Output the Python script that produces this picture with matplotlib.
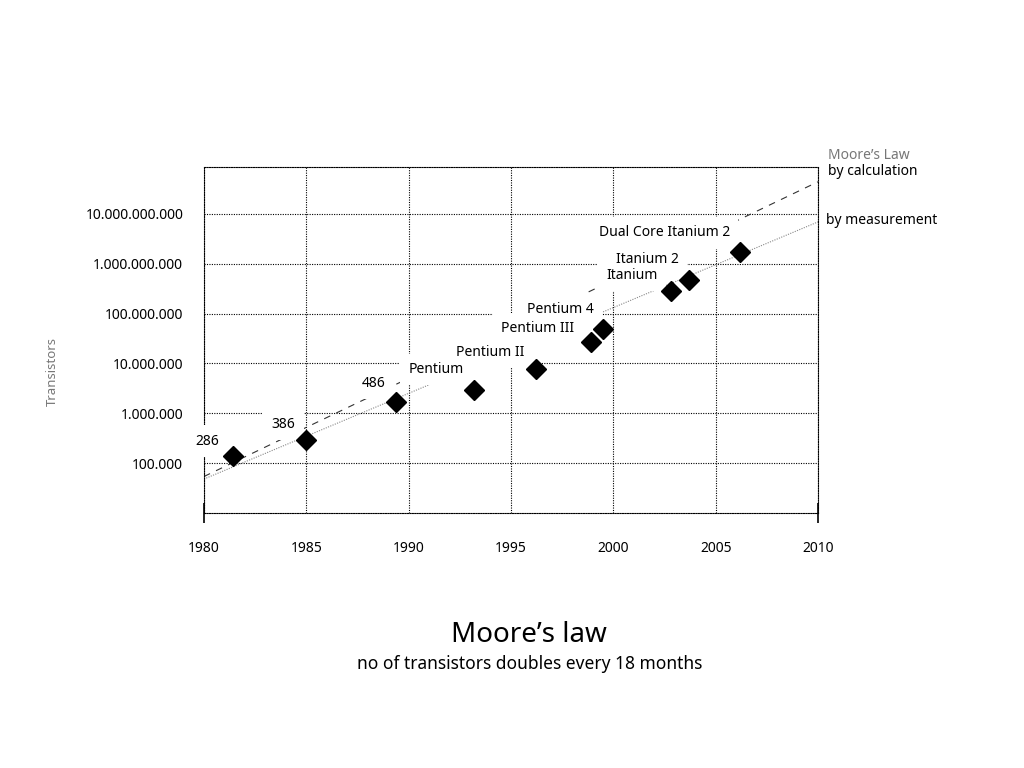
import numpy as np
from matplotlib import pyplot as plt
from matplotlib.ticker import FuncFormatter

plt.rcParams['font.family'] = ['Noto Sans', 'DejaVu Sans']

# processors: name, year of introduction, transistor count
chips = ['286', '386', '486', 'Pentium', 'Pentium II', 'Pentium III',
         'Pentium 4', 'Itanium', 'Itanium 2', 'Dual Core Itanium 2']
years = [1981.4, 1985.0, 1989.4, 1993.2, 1996.2, 1998.9, 1999.5, 2002.8, 2003.7, 2006.2]
transistors = [1.38e5, 2.9e5, 1.66e6, 3.0e6, 7.6e6, 2.75e7, 5.0e7, 2.9e8, 4.8e8, 1.74e9]

# label offsets (pixels) from each diamond
label_dx = [-25, -23, -23, -38, -45, -53, -43, -39, -42, -76]
label_dy = [15, 16, 19, 20, 17, 13, 19, 15, 20, 19]

# trend lines
trend_years = [1980, 2010]
calc_values = [5.4e4, 4.4e10]     # Moore's law by calculation
meas_values = [4.8e4, 6.9e9]      # by measurement

x_ticks = [1980, 1985, 1990, 1995, 2000, 2005, 2010]
y_ticks = [1e5, 1e6, 1e7, 1e8, 1e9, 1e10]

fs = 10
fig = plt.figure(figsize=(10.24, 7.68), dpi=100)
ax = fig.add_axes([204 / 1024, 1 - 513 / 768, 614 / 1024, 346 / 768])

dot = (0, (1, 1.2))
ax.plot(trend_years, calc_values, color='#333333', lw=0.8, ls=(0, (6, 6)), zorder=2)
ax.plot(trend_years, meas_values, color='#888888', lw=0.8, ls=dot, zorder=2)

# white boxes first (they hide lines and grid), then the label texts on top
for name, x, y, dx, dy in zip(chips, years, transistors, label_dx, label_dy):
    ax.annotate(name, (x, y), xytext=(dx, dy), textcoords='offset pixels',
                ha='center', va='center', fontsize=fs, color='white', zorder=3,
                bbox=dict(boxstyle='square,pad=0.6', fc='white', ec='none'))
for name, x, y, dx, dy in zip(chips, years, transistors, label_dx, label_dy):
    ax.annotate(name, (x, y), xytext=(dx, dy), textcoords='offset pixels',
                ha='center', va='center', fontsize=fs, color='black', zorder=3.5)

ax.plot(years, transistors, 'D', color='black', ms=10.5, zorder=4)

ax.set_yscale('log')
ax.set_xlim(1980, 2010)
ax.set_ylim(1e4, 10 ** 10.94)
ax.set_xticks(x_ticks)
ax.set_yticks(y_ticks)
ax.minorticks_off()
ax.xaxis.remove_overlapping_locs = False
ax.set_xticks([1980, 2010], minor=True)
ax.yaxis.set_major_formatter(FuncFormatter(lambda v, p: f'{int(round(v)):,}'.replace(',', '.')))
ax.tick_params(axis='both', which='major', length=0, labelsize=fs)
ax.tick_params(axis='x', which='major', pad=20)
ax.tick_params(axis='y', which='major', pad=15)
ax.tick_params(axis='x', which='minor', length=14, width=1.2, direction='inout',
               color='black', labelbottom=False)

ax.grid(True, which='major', color='black', lw=0.8, ls=dot, zorder=0)
for s in ax.spines.values():
    s.set_linestyle(dot)
    s.set_linewidth(0.8)

ax.set_ylabel('Transistors', color='#777777', fontsize=9.5)
ax.yaxis.set_label_coords(-(204 - 59) / 614, 0.408)

# line-end legend
ax.annotate("Moore’s Law", (2010, calc_values[1]), xytext=(10, 26), textcoords='offset pixels',
            ha='left', va='center', fontsize=fs, color='#777777', annotation_clip=False)
ax.annotate('by calculation', (2010, calc_values[1]), xytext=(10, 10), textcoords='offset pixels',
            ha='left', va='center', fontsize=fs, annotation_clip=False)
ax.annotate('by measurement', (2010, meas_values[1]), xytext=(8, 1), textcoords='offset pixels',
            ha='left', va='center', fontsize=fs, annotation_clip=False)

fig.text(0.517, 1 - 635 / 768, 'Moore’s law', ha='center', va='center', fontsize=20)
fig.text(0.517, 1 - 664 / 768, 'no of transistors doubles every 18 months',
         ha='center', va='center', fontsize=12.5)

fig.savefig('out.png', dpi=100)
